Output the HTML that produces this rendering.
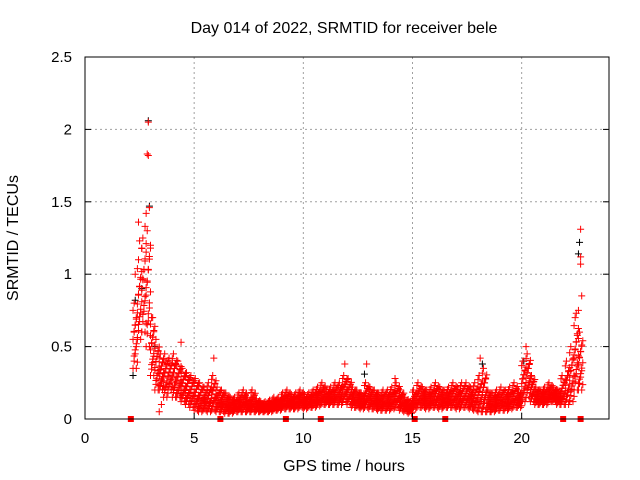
<!DOCTYPE html>
<html><head><meta charset="utf-8"><style>
body{margin:0;background:#fff}
svg{display:block;font-family:"Liberation Sans",sans-serif}
</style></head><body>
<svg id="c" width="640" height="480">
<text x="344" y="33" font-size="16" text-anchor="middle">Day 014 of 2022, SRMTID for receiver bele</text>
<text x="344" y="471" font-size="16" text-anchor="middle">GPS time / hours</text>
<text transform="translate(18,238) rotate(-90)" font-size="16" text-anchor="middle">SRMTID / TECUs</text>
<g id="grid"></g><g id="marks"></g><g id="axes"></g>
</svg>
<script>
const xTicks=[0,5,10,15,20];
const yTicks=[0,0.5,1,1.5,2,2.5];
const yTickLabels=["0","0.5","1","1.5","2","2.5"];
const bandStart=2.2, bandStep=0.2;
const bandHi=[0.8,1.1,1.25,1.3,0.7,0.55,0.45,0.45,0.42,0.45,0.4,0.35,0.32,0.3,0.28,0.25,0.22,0.25,0.3,0.22,0.2,0.18,0.15,0.15,0.18,0.2,0.15,0.2,0.14,0.12,0.12,0.13,0.15,0.15,0.18,0.2,0.17,0.18,0.2,0.17,0.18,0.2,0.22,0.25,0.2,0.22,0.25,0.25,0.3,0.28,0.22,0.2,0.18,0.25,0.22,0.2,0.18,0.2,0.2,0.22,0.25,0.2,0.15,0.12,0.2,0.25,0.22,0.2,0.22,0.25,0.22,0.2,0.22,0.25,0.22,0.25,0.25,0.22,0.25,0.3,0.35,0.2,0.18,0.2,0.22,0.2,0.22,0.25,0.2,0.4,0.45,0.3,0.22,0.2,0.22,0.25,0.22,0.2,0.3,0.4,0.5,0.7,0.6];
const bandLo=[0.35,0.55,0.6,0.5,0.3,0.2,0.2,0.15,0.2,0.15,0.15,0.12,0.1,0.08,0.06,0.05,0.06,0.05,0.06,0.05,0.05,0.04,0.04,0.05,0.05,0.05,0.05,0.05,0.05,0.05,0.05,0.05,0.06,0.06,0.07,0.07,0.07,0.07,0.08,0.07,0.08,0.08,0.09,0.1,0.1,0.1,0.1,0.1,0.12,0.1,0.08,0.08,0.07,0.08,0.07,0.07,0.06,0.06,0.06,0.07,0.08,0.06,0.05,0.04,0.07,0.08,0.08,0.07,0.08,0.08,0.07,0.08,0.08,0.08,0.07,0.08,0.08,0.07,0.06,0.05,0.05,0.05,0.05,0.06,0.06,0.06,0.07,0.08,0.08,0.12,0.15,0.12,0.1,0.1,0.1,0.12,0.12,0.1,0.1,0.1,0.12,0.2,0.2];
const peakT=[2.9,2.85,2.9,2.95,2.8,2.45,2.75,3.4,3.5,5.9,11.9,12.9,18.1,20.2,22.7,22.7,22.7,22.75,22.6,22.5,4.4,3.1,14.2,2.3,2.5,2.6,3.0];
const peakV=[2.05,1.83,1.82,1.46,1.42,1.36,1.33,0.05,0.1,0.42,0.38,0.38,0.42,0.5,1.31,1.12,1.07,0.85,0.75,0.73,0.53,0.7,0.28,1.0,1.23,1.18,1.2];
const blackT=[2.2,2.3,2.9,2.95,22.65,22.6,12.8,18.2,20.1,2.6,3.2];
const blackV=[0.3,0.82,2.06,1.47,1.22,1.14,0.31,0.38,0.4,0.9,0.5];
const zeroT=[2.1,9.2,10.8,15.1,21.9,22.7,6.2,16.5];

const L=85,R=609,T=57,B=419;
const xs=v=>L+(v/24)*(R-L);
const ys=v=>B-(v/2.5)*(B-T);
const NS="http://www.w3.org/2000/svg";
function mk(tag,attrs,parent){const e=document.createElementNS(NS,tag);for(const k in attrs)e.setAttribute(k,attrs[k]);parent.appendChild(e);return e;}
const grid=document.getElementById('grid'),marks=document.getElementById('marks'),axes=document.getElementById('axes');
xTicks.forEach((t,i)=>{
  if(t>0){const g=mk('line',{x1:xs(t),x2:xs(t),y1:T,y2:B,stroke:'#a0a0a0','stroke-dasharray':'2,3'},grid);
  
  }
  const tk=mk('line',{x1:xs(t),x2:xs(t),y1:B,y2:B-6,stroke:'#000'},axes);
  
  
  const tx=mk('text',{x:xs(t),y:B+24,'font-size':15,'text-anchor':'middle'},axes);tx.textContent=t;
  
  
});
yTicks.forEach((v,i)=>{
  if(v>0){const g=mk('line',{x1:L,x2:R,y1:ys(v),y2:ys(v),stroke:'#a0a0a0','stroke-dasharray':'2,3'},grid);
  
  }
  const tk=mk('line',{x1:L,x2:L+6,y1:ys(v),y2:ys(v),stroke:'#000'},axes);
  
  
  const tk2=mk('line',{x1:R,x2:R-6,y1:ys(v),y2:ys(v),stroke:'#000'},axes);
  
  
  const tx=mk('text',{x:L-13,y:ys(v)+5,'font-size':15,'text-anchor':'end'},axes);tx.textContent=yTickLabels[i];
  
  
});
const frame=mk('rect',{x:L,y:T,width:R-L,height:B-T,fill:'none',stroke:'#000'},axes);


function plus(t,v,col,name){
  const x=xs(t),y=ys(v);
  const p=mk('path',{d:`M${x-3.5},${y}h7M${x},${y-3.5}v7`,stroke:col,'stroke-width':1,fill:'none'},marks);
  
  
}
blackT.forEach((t,i)=>plus(t,blackV[i],'#000','black-point'));
bandHi.forEach((h,i)=>{
  const lo=bandLo[i];const t0=bandStart+i*bandStep;
  for(let k=0;k<10;k++){
    const f=k/9;const dt=(k%4)*0.05;
    plus(t0+dt,lo+(h-lo)*f,'#f00','srmtid-point');
    plus(t0+0.2-dt,lo+(h-lo)*(1-f)*0.85,'#f00','srmtid-point');
  }
});
peakT.forEach((t,i)=>plus(t,peakV[i],'#f00','srmtid-peak'));
zeroT.forEach(t=>{
  const r=mk('rect',{x:xs(t)-3,y:B-3,width:6,height:6,fill:'#f00'},marks);
  
  
});
</script>
</body></html>
